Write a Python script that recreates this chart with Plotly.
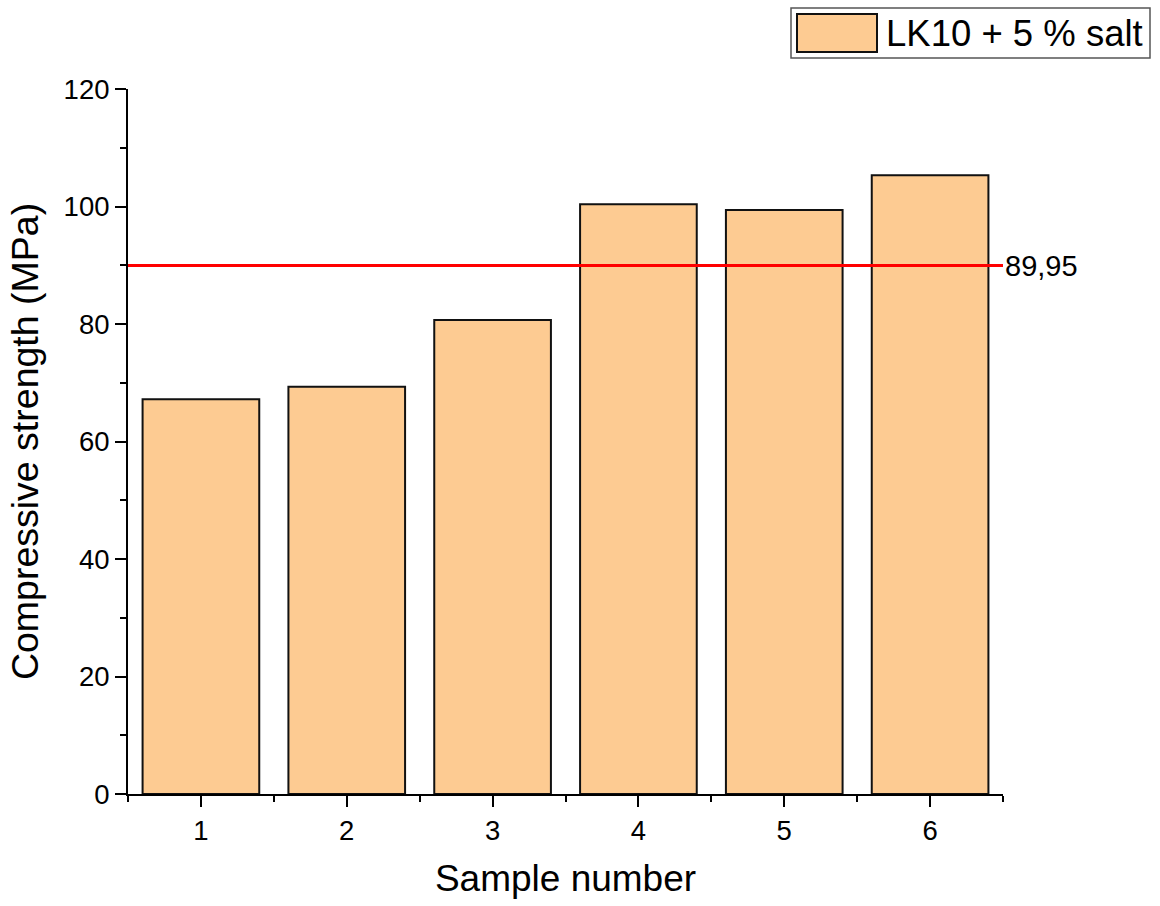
import plotly.graph_objects as go

samples = [1, 2, 3, 4, 5, 6]
strength = [67.2, 69.3, 80.7, 100.4, 99.4, 105.3]
mean_value = 89.95
mean_label = "89,95"
series_name = "LK10 + 5 % salt"

font = "Liberation Sans, Arial, sans-serif"
bar_fill = "#FDCB92"

# plot area in pixels (for placing the legend box outside the plot)
L, R, T, B = 128, 1003, 89, 794
W, H = R - L, B - T


def px(xp):
    return (xp - L) / W


def py(yp):
    return (B - yp) / H


fig = go.Figure()
fig.add_trace(go.Bar(
    x=samples, y=strength, name=series_name, width=0.8,
    marker=dict(color=bar_fill, line=dict(color="#111111", width=2)),
    showlegend=False,
))

fig.add_shape(type="line", xref="paper", yref="y", x0=0, x1=1,
              y0=mean_value, y1=mean_value,
              line=dict(color="#FF0000", width=3))
fig.add_annotation(xref="paper", yref="y", x=1, y=mean_value, text=mean_label,
                   showarrow=False, xanchor="left", yanchor="middle", xshift=0,
                   font=dict(family=font, size=29, color="#000000"))

# legend box (drawn to match the wide swatch of the original)
fig.add_shape(type="rect", xref="paper", yref="paper",
              x0=px(791), x1=px(1150), y0=py(58), y1=py(8),
              line=dict(color="#555555", width=1.5), fillcolor="white", layer="above")
fig.add_shape(type="rect", xref="paper", yref="paper",
              x0=px(797), x1=px(877), y0=py(52), y1=py(14),
              line=dict(color="#111111", width=2), fillcolor=bar_fill, layer="above")
fig.add_annotation(xref="paper", yref="paper", x=px(884), y=py(33), text=series_name,
                   showarrow=False, xanchor="left", yanchor="middle",
                   font=dict(family=font, size=36.5, color="#000000"))

fig.update_layout(
    width=1160, height=906,
    margin=dict(l=L, r=1160 - R, t=T, b=906 - B, autoexpand=False),
    paper_bgcolor="white", plot_bgcolor="white",
    font=dict(family=font, color="#000000"),
    showlegend=False,
    xaxis=dict(
        range=[0.5, 6.5], tickmode="array", tickvals=samples,
        ticktext=[str(s) for s in samples],
        showline=True, linecolor="#000000", linewidth=2,
        ticks="outside", ticklen=11, tickwidth=2, tickcolor="#000000",
        minor=dict(tickmode="array", tickvals=[0.5, 1.5, 2.5, 3.5, 4.5, 5.5, 6.5],
                   ticks="outside", ticklen=6, tickwidth=2, tickcolor="#000000"),
        showgrid=False, zeroline=False,
        tickfont=dict(family=font, size=27.5),
        title=dict(text="Sample number", font=dict(family=font, size=37), standoff=20),
    ),
    yaxis=dict(
        range=[0, 120], tickmode="linear", tick0=0, dtick=20,
        showline=True, linecolor="#000000", linewidth=2,
        ticks="outside", ticklen=11, tickwidth=2, tickcolor="#000000",
        minor=dict(dtick=10, ticks="outside", ticklen=6, tickwidth=2, tickcolor="#000000"),
        showgrid=False, zeroline=False,
        tickfont=dict(family=font, size=27.5),
        title=dict(text="Compressive strength (MPa)", font=dict(family=font, size=37.5), standoff=13),
    ),
)

fig.write_html("out.html")
